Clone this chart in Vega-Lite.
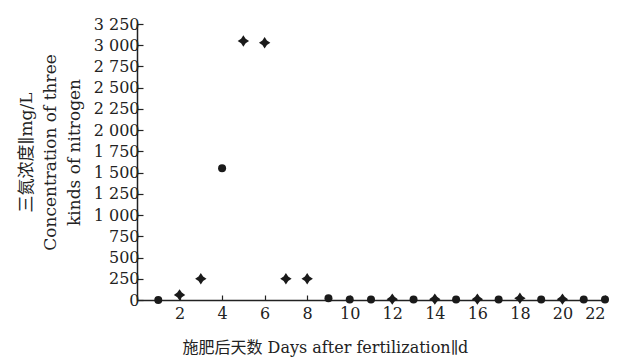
{
  "$schema": "https://vega.github.io/schema/vega-lite/v6.json",
  "width": 468,
  "height": 276,
  "autosize": "none",
  "padding": {"left": 137, "top": 24, "right": 32, "bottom": 64},
  "background": "white",
  "config": {
    "view": {"stroke": null},
    "font": "DejaVu Serif, Noto Sans CJK SC",
    "axis": {
      "domainColor": "#222",
      "domainWidth": 1.5,
      "tickColor": "#222",
      "tickWidth": 1.2,
      "labelColor": "#222",
      "titleColor": "#222",
      "labelFont": "DejaVu Serif",
      "titleFont": "DejaVu Serif, Noto Sans CJK SC",
      "titleFontWeight": "normal",
      "grid": false
    }
  },
  "data": {
    "values": [
      {"day": 1, "value": 0, "type": "a"},
      {"day": 2, "value": 60, "type": "b"},
      {"day": 3, "value": 250, "type": "b"},
      {"day": 4, "value": 1550, "type": "a"},
      {"day": 5, "value": 3050, "type": "b"},
      {"day": 6, "value": 3030, "type": "b"},
      {"day": 7, "value": 250, "type": "b"},
      {"day": 8, "value": 250, "type": "b"},
      {"day": 9, "value": 20, "type": "a"},
      {"day": 10, "value": 5, "type": "a"},
      {"day": 11, "value": 5, "type": "a"},
      {"day": 12, "value": 10, "type": "b"},
      {"day": 13, "value": 5, "type": "a"},
      {"day": 14, "value": 10, "type": "b"},
      {"day": 15, "value": 5, "type": "a"},
      {"day": 16, "value": 10, "type": "b"},
      {"day": 17, "value": 5, "type": "a"},
      {"day": 18, "value": 20, "type": "b"},
      {"day": 19, "value": 5, "type": "a"},
      {"day": 20, "value": 10, "type": "b"},
      {"day": 21, "value": 5, "type": "a"},
      {"day": 22, "value": 5, "type": "a"}
    ]
  },
  "mark": {"type": "point", "filled": true, "opacity": 1, "color": "#1a1a1a"},
  "encoding": {
    "x": {
      "field": "day",
      "type": "quantitative",
      "scale": {"domain": [0, 22], "nice": false, "zero": true},
      "axis": {
        "values": [2, 4, 6, 8, 10, 12, 14, 16, 18, 20, 22],
        "tickSize": -5,
        "labelPadding": 10,
        "labelFontSize": 16,
        "labelOverlap": false,
        "title": "施肥后天数 Days after fertilization∥d",
        "titleFontSize": 16,
        "titleAnchor": "start",
        "titleAlign": "left",
        "titleBaseline": "top",
        "titleX": 45,
        "titleY": 39
      }
    },
    "y": {
      "field": "value",
      "type": "quantitative",
      "scale": {"domain": [0, 3250], "nice": false},
      "axis": {
        "values": [0, 250, 500, 750, 1000, 1250, 1500, 1750, 2000, 2250, 2500, 2750, 3000, 3250],
        "labelExpr": "replace(format(datum.value, ','), ',', ' ')",
        "tickSize": -6,
        "labelPadding": 4,
        "labelFontSize": 16,
        "labelOverlap": false,
        "title": ["三氮浓度∥mg/L", "Concentration of three", "kinds of nitrogen"],
        "titleFontSize": 17,
        "titleLineHeight": 24,
        "titleAngle": -90,
        "titleAlign": "center",
        "titleBaseline": "top",
        "titleX": -119,
        "titleY": 128
      }
    },
    "shape": {
      "field": "type",
      "type": "nominal",
      "legend": null,
      "scale": {"domain": ["a", "b"], "range": ["circle", "M0,-1L0.4,-0.4L1,0L0.4,0.4L0,1L-0.4,0.4L-1,0L-0.4,-0.4Z"]}
    },
    "size": {
      "field": "type",
      "type": "nominal",
      "legend": null,
      "scale": {"domain": ["a", "b"], "range": [64, 130]}
    }
  }
}
